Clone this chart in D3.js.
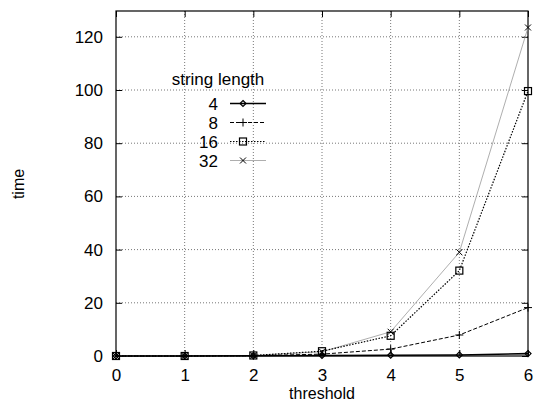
<!doctype html>
<html>
<head>
<meta charset="utf-8">
<script src="https://d3js.org/d3.v7.min.js"></script>
<style>
  body { margin: 0; background: #fff; }
  text { font-family: "Liberation Sans", Arial, sans-serif; fill: #000; }
</style>
</head>
<body>
<div id="chart"></div>
<script>
// data
var thresholds = [0, 1, 2, 3, 4, 5, 6];
var len4  = [0, 0, 0.1, 0.2, 0.3, 0.4, 0.9];
var len8  = [0, 0, 0.1, 0.7, 2.6, 7.9, 18.2];
var len16 = [0, 0, 0.2, 1.8, 7.6, 32.1, 99.6];
var len32 = [0, 0, 0.2, 1.6, 9.1, 39.0, 123.5];
var xTicks = [0, 1, 2, 3, 4, 5, 6];
var yTicks = [0, 20, 40, 60, 80, 100, 120];
var seriesNames = ["4", "8", "16", "32"];

var series = [
  { name: "4",  values: len4,  dash: null,  color: "#000", width: 1.6, marker: "diamond" },
  { name: "8",  values: len8,  dash: "4,2", color: "#000", width: 1,   marker: "plus" },
  { name: "16", values: len16, dash: "1.5,1.5", color: "#000", width: 1.2, marker: "square" },
  { name: "32", values: len32, dash: null,  color: "#999", width: 0.8, marker: "cross" }
];

var W = 548, H = 402;
var margin = {top: 11, right: 20, bottom: 46, left: 116};
var width = W - margin.left - margin.right,
    height = H - margin.top - margin.bottom;

var svg = d3.select("#chart").append("svg")
    .attr("width", W).attr("height", H);
var g = svg.append("g")
    .attr("transform", "translate(" + margin.left + "," + margin.top + ")");

var x = d3.scaleLinear().domain([0, 6]).range([0, width]);
var y = d3.scaleLinear().domain([0, 129.7]).range([height, 0]);

// grid
g.selectAll(".vgrid").data(xTicks.slice(1, -1)).enter().append("line")
  .attr("x1", d => x(d)).attr("x2", d => x(d))
  .attr("y1", 0).attr("y2", height)
  .attr("stroke", "#777").attr("stroke-width", 1).attr("stroke-dasharray", "1,2");
g.selectAll(".hgrid").data(yTicks.slice(1)).enter().append("line")
  .attr("x1", 0).attr("x2", width)
  .attr("y1", d => y(d)).attr("y2", d => y(d))
  .attr("stroke", "#777").attr("stroke-width", 1).attr("stroke-dasharray", "1,2");

// axes: bottom / left with labels, top / right mirrored
var ax = g.append("g").attr("transform", "translate(0," + height + ")")
  .call(d3.axisBottom(x).tickValues(xTicks).tickFormat(d3.format("d")).tickSizeInner(-6).tickSizeOuter(0).tickPadding(13));
var ay = g.append("g")
  .call(d3.axisLeft(y).tickValues(yTicks).tickFormat(d3.format("d")).tickSizeInner(-6).tickSizeOuter(0).tickPadding(13));
var axT = g.append("g")
  .call(d3.axisTop(x).tickValues(xTicks).tickSizeInner(-6).tickSizeOuter(0).tickFormat(""));
var ayR = g.append("g").attr("transform", "translate(" + width + ",0)")
  .call(d3.axisRight(y).tickValues(yTicks).tickSizeInner(-6).tickSizeOuter(0).tickFormat(""));
[ax, ay, axT, ayR].forEach(function(a) {
  a.select(".domain").remove();
  a.selectAll("line").attr("stroke", "#000");
  a.selectAll("text").style("font-size", "17px").attr("fill", "#000");
});

// border
g.append("rect").attr("width", width).attr("height", height)
  .attr("fill", "none").attr("stroke", "#000").attr("stroke-width", 1.2);

// markers
function drawMarker(sel, type, cx, cy, color) {
  if (type === "diamond") {
    sel.append("path").attr("d", "M" + cx + "," + (cy - 3) + "L" + (cx + 3) + "," + cy + "L" + cx + "," + (cy + 3) + "L" + (cx - 3) + "," + cy + "Z")
      .attr("fill", "none").attr("stroke", color).attr("stroke-width", 1.2);
  } else if (type === "plus") {
    sel.append("path").attr("d", "M" + (cx - 4) + "," + cy + "H" + (cx + 4) + "M" + cx + "," + (cy - 4) + "V" + (cy + 4))
      .attr("stroke", color).attr("stroke-width", 1);
  } else if (type === "square") {
    sel.append("rect").attr("x", cx - 3.5).attr("y", cy - 3.5).attr("width", 7).attr("height", 7)
      .attr("fill", "none").attr("stroke", color).attr("stroke-width", 1.2);
  } else {
    sel.append("path").attr("d", "M" + (cx - 3) + "," + (cy - 3) + "L" + (cx + 3) + "," + (cy + 3) + "M" + (cx - 3) + "," + (cy + 3) + "L" + (cx + 3) + "," + (cy - 3))
      .attr("stroke", "#000").attr("stroke-width", 1);
  }
}

var line = d3.line().x((d, i) => x(thresholds[i])).y(d => y(d));

// draw in reverse so the solid line for 4 sits on top
series.slice().reverse().forEach(function(s) {
  g.append("path").datum(s.values).attr("d", line)
    .attr("fill", "none").attr("stroke", s.color)
    .attr("stroke-width", s.width)
    .attr("stroke-dasharray", s.dash);
  var mg = g.append("g");
  s.values.forEach(function(v, i) {
    drawMarker(mg, s.marker, x(thresholds[i]), y(v), "#000");
  });
});

// legend
var lg = svg.append("g");
lg.append("text").attr("x", 218).attr("y", 85).attr("text-anchor", "middle")
  .style("font-size", "17px").text("string length");
series.forEach(function(s, i) {
  var ry = 103.5 + i * 19;
  lg.append("text").attr("x", 218).attr("y", ry + 6).attr("text-anchor", "end")
    .style("font-size", "17px").text(seriesNames[i]);
  lg.append("path").attr("d", "M230," + ry + "H266")
    .attr("fill", "none")
    .attr("stroke", s.color).attr("stroke-width", s.width).attr("stroke-dasharray", s.dash);
  drawMarker(lg, s.marker, 243, ry, "#000");
});

// axis titles
svg.append("text").attr("transform", "translate(24,184) rotate(-90)").attr("text-anchor", "middle")
  .style("font-size", "16px").text("time");
svg.append("text").attr("x", margin.left + width / 2).attr("y", 399).attr("text-anchor", "middle")
  .style("font-size", "16px").text("threshold");
</script>
</body>
</html>
